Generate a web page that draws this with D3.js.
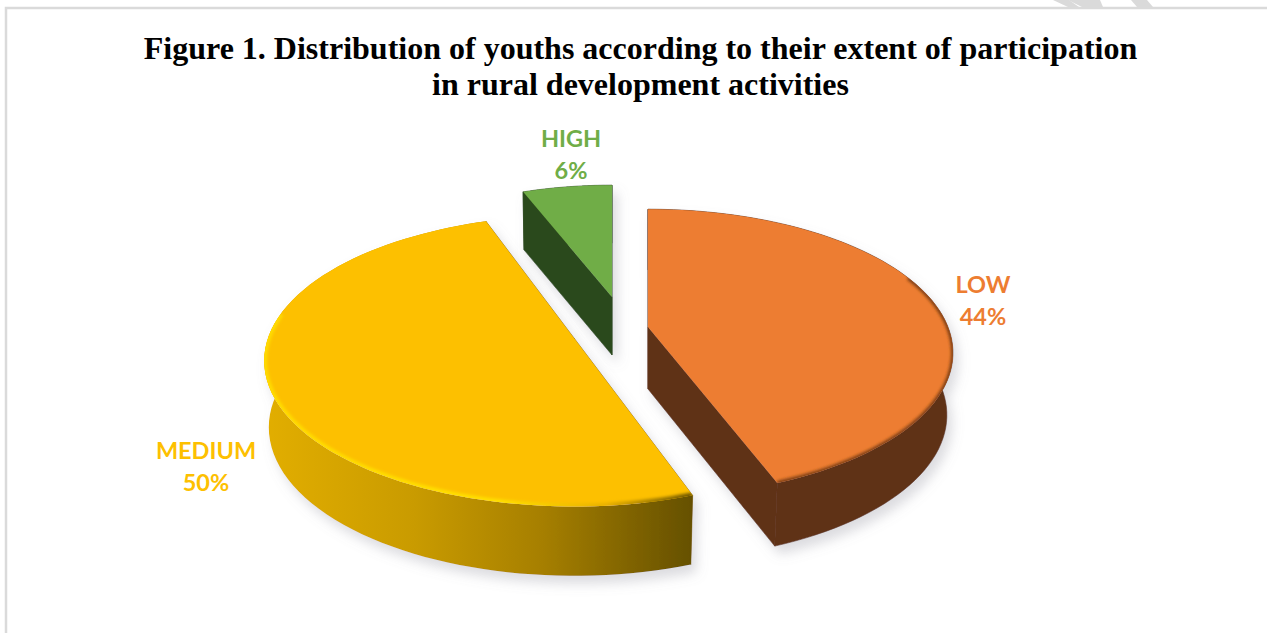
<!DOCTYPE html>
<html>
<head>
<meta charset="utf-8">
<script src="https://cdn.jsdelivr.net/npm/d3@7"></script>
<style>
html, body { margin: 0; padding: 0; background: #fff; overflow: hidden; }
svg { display: block; }
</style>
</head>
<body>
<div id="chart"></div>
<script>
// Exploded 3D style pie, youth participation in rural development
var titleLines = ["Figure 1. Distribution of youths according to their extent of participation",
	"in rural development activities"];
var categories = ["LOW", "MEDIUM", "HIGH"];
var percents = [44, 50, 6];
var topColors = ["#ed7d31", "#fdc000", "#70ad47"];
var cutColors = ["#5f3115", "#8a6a00", "#2b4a1c"];

var width = 1267,
	height = 633;

// one set of numbers per slice, the pie is exploded and each slice sits at its own spot
var centres = [[648, 327], [574, 338], [612, 297]],
	labelPos = [[983, 285], [206, 451], [571, 139]],
	depths = [62, 66, 58],
	depthLean = [0.02, 0.05, 0],
	radiusX = [300, 306, 282],
	radiusY = [139, 142, 132],
	persp = [0.18, 0.157, 0.18],
	warp = [0.015, 0.059, 0],
	lowerShrink = [0.98, 0.985, 0.99];

var svg = d3.select("#chart").append("svg")
	.attr("width", width)
	.attr("height", height)
	.attr("viewBox", "0 0 " + width + " " + height);

var defs = svg.append("defs");

var shadow = defs.append("filter").attr("id", "shadow")
	.attr("x", "-20%").attr("y", "-20%").attr("width", "140%").attr("height", "150%");
shadow.append("feDropShadow")
	.attr("dx", 5).attr("dy", 8).attr("stdDeviation", 6)
	.attr("flood-color", "#8a8a96").attr("flood-opacity", 0.3);

defs.append("filter").attr("id", "soft")
	.attr("x", "-10%").attr("y", "-10%").attr("width", "120%").attr("height", "120%")
	.append("feGaussianBlur").attr("stdDeviation", 1.8);

var wallGrad = defs.append("linearGradient").attr("id", "wallMedium")
	.attr("x1", "0%").attr("x2", "100%").attr("y1", "0%").attr("y2", "0%");
[["0%", "#e2ae00"], ["35%", "#c99b00"], ["65%", "#a67f00"], ["100%", "#655000"]].forEach(function(s) {
	wallGrad.append("stop").attr("offset", s[0]).attr("stop-color", s[1]);
});

var rimGrad = defs.append("linearGradient").attr("id", "rimMedium")
	.attr("x1", "0%").attr("x2", "100%").attr("y1", "0%").attr("y2", "0%");
[["0%", "#ffdc00"], ["55%", "#ffe000"], ["80%", "#e8b000"], ["100%", "#6b5400"]].forEach(function(s) {
	rimGrad.append("stop").attr("offset", s[0]).attr("stop-color", s[1]);
});

// frame, only top and left of it show in the screenshot
svg.append("path")
	.attr("d", "M6," + height + "V8H" + width)
	.attr("fill", "none")
	.attr("stroke", "#dadada")
	.attr("stroke-width", 2.5);

// corner of the page watermark
svg.append("g").attr("fill", "#dadada").selectAll("path")
	.data(["M1053,0L1069,0L1079,7L1068,7Z", "M1068,0L1100,0L1103,7L1082,7Z", "M1131,0L1147,0L1153,7L1137,7Z"])
	.enter().append("path").attr("d", function(d) { return d; });

svg.append("g").selectAll("text")
	.data(titleLines)
	.enter().append("text")
	.attr("x", 640.5)
	.attr("y", function(d, i) { return 59 + i * 36; })
	.attr("text-anchor", "middle")
	.style("font-family", "'Liberation Serif', serif")
	.style("font-weight", "bold")
	.style("font-size", "32px")
	.style("fill", "#000")
	.text(function(d) { return d; });

var pie = d3.pie().sort(null).value(function(d) { return d; });
var arcs = pie(percents);

var line = d3.line();

// angle on the disc to screen, nearer part of the disc is drawn larger
function project(i, angle, lower) {
	var a = angle - warp[i] * Math.sin(2 * angle),
		u = Math.sin(a),
		v = -Math.cos(a),
		w = 1 / (1 - persp[i] * v),
		x = centres[i][0] + radiusX[i] * u * w * (lower ? lowerShrink[i] : 1),
		y = centres[i][1] + radiusY[i] * v * w;
	if (lower) y += depths[i] * (1 + depthLean[i] * v);
	return [x, y];
}

function centre(i, lower) {
	return [centres[i][0], centres[i][1] + (lower ? depths[i] : 0)];
}

function arcPoints(i, d, lower) {
	var n = 80;
	return d3.range(n + 1).map(function(k) {
		return project(i, d.startAngle + (d.endAngle - d.startAngle) * k / n, lower);
	});
}

var order = [2, 0, 1];
order.forEach(function(i) {
	var d = arcs[i],
		g = svg.append("g").attr("filter", "url(#shadow)"),
		upper = arcPoints(i, d, false),
		lower = arcPoints(i, d, true);

	// cut faces, start side then end side
	[d.startAngle, d.endAngle].forEach(function(a) {
		g.append("path")
			.attr("d", line([centre(i, false), centre(i, true), project(i, a, true), project(i, a, false)]) + "Z")
			.attr("fill", cutColors[i])
			.attr("stroke", cutColors[i])
			.attr("stroke-width", 0.6);
	});

	// outer wall, the stroke closes the seam with the cut face
	g.append("path")
		.attr("d", line(upper.concat(lower.slice().reverse())) + "Z")
		.attr("fill", i === 1 ? "url(#wallMedium)" : cutColors[i])
		.attr("stroke", i === 1 ? "none" : cutColors[i])
		.attr("stroke-width", 0.6);

	// top face
	var topPath = line([centre(i, false)].concat(upper)) + "Z";
	g.append("path")
		.attr("d", topPath)
		.attr("fill", topColors[i]);

	// soft bevel along the outer edge of the top
	if (i === 2) return;
	var clipId = "clip" + i;
	defs.append("clipPath").attr("id", clipId).append("path").attr("d", topPath);
	var rimAngles = i === 1 ? [d.startAngle, Math.PI * 1.55] : [Math.PI * 0.38, d.endAngle];
	var rim = d3.range(61).map(function(k) {
		return project(i, rimAngles[0] + (rimAngles[1] - rimAngles[0]) * k / 60, false);
	});
	g.append("g").attr("clip-path", "url(#" + clipId + ")")
		.append("path")
		.attr("d", line(rim))
		.attr("fill", "none")
		.attr("stroke", i === 1 ? "url(#rimMedium)" : "#7a3d12")
		.attr("stroke-width", i === 1 ? 6 : 4)
		.attr("filter", "url(#soft)");
});

var labels = svg.append("g").selectAll("g")
	.data(categories)
	.enter().append("g")
	.style("font-family", "Lato, sans-serif")
	.style("font-weight", "bold")
	.style("font-size", "23.5px")
	.attr("text-anchor", "middle")
	.style("fill", function(d, i) { return topColors[i]; });

labels.append("text")
	.attr("x", function(d, i) { return labelPos[i][0]; })
	.attr("y", function(d, i) { return labelPos[i][1] + 8; })
	.text(function(d) { return d; });

labels.append("text")
	.attr("x", function(d, i) { return labelPos[i][0]; })
	.attr("y", function(d, i) { return labelPos[i][1] + 40; })
	.text(function(d, i) { return percents[i] + "%"; });
</script>
</body>
</html>
